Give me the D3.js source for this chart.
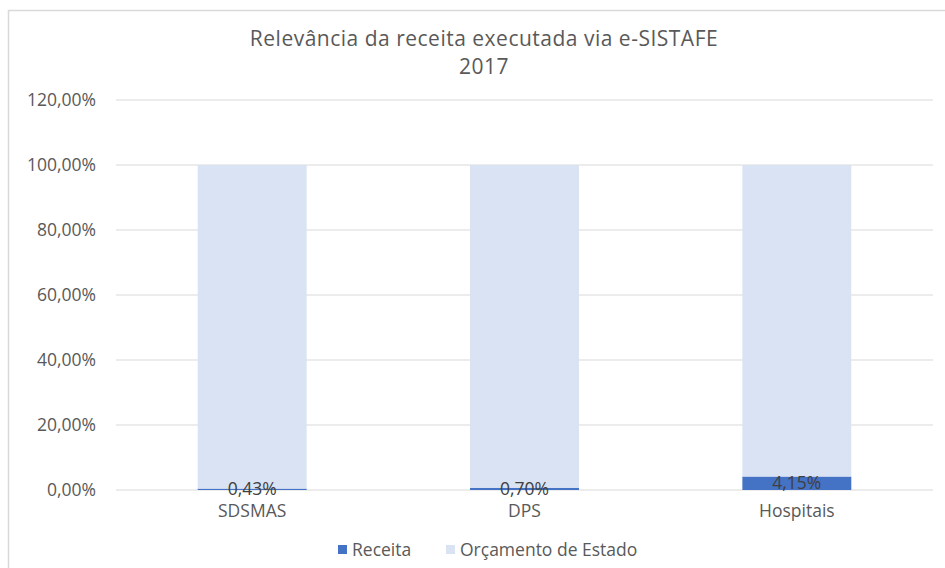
<!DOCTYPE html>
<html>
<head>
<meta charset="utf-8">
<script src="https://cdn.jsdelivr.net/npm/d3@7"></script>
<style>
  body { margin: 0; background: #fff; }
  svg text { font-family: "Open Sans", "Noto Sans", sans-serif; fill: #595959; }
</style>
</head>
<body>
<svg id="chart" width="945" height="568"></svg>
<script>
const categories = ["SDSMAS", "DPS", "Hospitais"];
const receita = [0.43, 0.70, 4.15];
const orcamento = [99.57, 99.30, 95.85];
const yTicks = [0, 20, 40, 60, 80, 100, 120];
const seriesNames = ["Receita", "Orçamento de Estado"];
const colors = ["#4472c4", "#dae3f3"];

const svg = d3.select("#chart");

// outer chart border
svg.append("rect")
    .attr("x", 8.5).attr("y", 10.5)
    .attr("width", 960).attr("height", 600)
    .attr("fill", "#fff")
    .attr("stroke", "#d9d9d9")
    .attr("stroke-width", 1.5);

const plotLeft = 116, plotRight = 933, plotTop = 100, plotBottom = 490;

const xScale = d3.scaleBand()
    .domain(categories)
    .range([plotLeft, plotRight])
    .paddingInner(0.6)
    .paddingOuter(0.3);

const yScale = d3.scaleLinear()
    .domain([0, 120])
    .range([plotBottom, plotTop]);

// gridlines
svg.append("g")
    .selectAll("line")
    .data(yTicks)
    .enter()
    .append("line")
    .attr("x1", plotLeft).attr("x2", plotRight)
    .attr("y1", d => yScale(d)).attr("y2", d => yScale(d))
    .attr("stroke", "#d9d9d9")
    .attr("stroke-width", 1);

// y axis labels
const yAxis = svg.append("g")
    .attr("transform", "translate(" + (plotLeft - 6) + ",0)")
    .call(d3.axisLeft(yScale).tickValues(yTicks).tickSize(0).tickPadding(14)
        .tickFormat(d => d.toFixed(2).replace(".", ",") + "%"));
yAxis.select(".domain").remove();
yAxis.selectAll("text")
    .style("font-size", "17.5px")
    .attr("fill", "#595959");

// stacked data
const table = categories.map((c, i) => ({ cat: c, r: receita[i], o: orcamento[i] }));
const stack = d3.stack().keys(["r", "o"])(table);

const layers = svg.append("g")
    .selectAll("g")
    .data(stack)
    .enter()
    .append("g")
    .attr("fill", (d, i) => colors[i]);

layers.selectAll("rect")
    .data(d => d)
    .enter()
    .append("rect")
    .attr("x", d => xScale(d.data.cat))
    .attr("width", xScale.bandwidth())
    .attr("y", d => yScale(d[1]))
    .attr("height", d => yScale(d[0]) - yScale(d[1]));

// x axis
const xAxis = svg.append("g")
    .attr("transform", "translate(0," + plotBottom + ")")
    .call(d3.axisBottom(xScale).tickSize(0).tickPadding(15));
xAxis.select(".domain").remove();
xAxis.selectAll("text")
    .style("font-size", "17.5px")
    .attr("fill", "#595959");

// data labels on receita
svg.append("g")
    .selectAll("text")
    .data(stack[0])
    .enter()
    .append("text")
    .attr("x", d => xScale(d.data.cat) + xScale.bandwidth() / 2)
    .attr("y", d => (yScale(d[0]) + yScale(d[1])) / 2)
    .attr("dy", "0.35em")
    .attr("text-anchor", "middle")
    .style("font-size", "17.5px")
    .style("fill", "#404040")
    .text(d => d.data.r.toFixed(2).replace(".", ",") + "%");

// title, two separate lines
const titleLines = ["Relevância da receita executada via e-SISTAFE", "2017"];
svg.append("g")
    .selectAll("text")
    .data(titleLines)
    .enter()
    .append("text")
    .attr("x", 484)
    .attr("y", (d, i) => 46 + i * 28)
    .attr("text-anchor", "middle")
    .style("font-size", "21px")
    .style("letter-spacing", "0.5px")
    .style("fill", "#595959")
    .text(d => d);

// legend
const legendX = [338, 446];
const legend = svg.append("g")
    .selectAll("g")
    .data(seriesNames)
    .enter()
    .append("g")
    .attr("transform", (d, i) => "translate(" + legendX[i] + ",550)");
legend.append("rect")
    .attr("x", 0).attr("y", -5)
    .attr("width", 9).attr("height", 9)
    .attr("fill", (d, i) => colors[i]);
legend.append("text")
    .attr("x", 14)
    .attr("dy", "0.35em")
    .style("font-size", "17.5px")
    .text(d => d);
</script>
</body>
</html>
